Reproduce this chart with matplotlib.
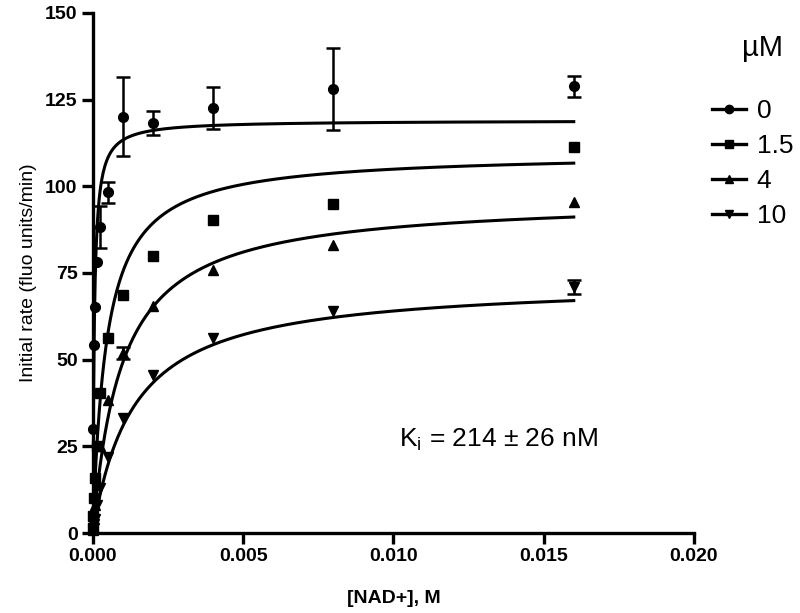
import numpy as np
import matplotlib.pyplot as plt

plt.rcParams['font.family'] = ['Liberation Sans', 'DejaVu Sans']

# [NAD+] in M (two-fold dilution series)
nad = [0.016, 0.008, 0.004, 0.002, 0.001, 0.0005, 0.00025,
       0.000125, 0.0000625, 0.00003125, 0.0000156, 0.0]

# initial rates (fluo units/min) for each inhibitor concentration
# (error 0 = bar hidden behind the marker)
rate_0 = [128.8, 128.0, 122.5, 118.2, 120.1, 98.3, 88.2, 78.2, 65.2, 54.2, 30.0, 2.0]
err_0 = [3.0, 11.8, 6.1, 3.4, 11.5, 3.0, 6.0, 0, 0, 0, 0, 0]
rate_1p5 = [111.2, 94.8, 90.2, 80.0, 68.6, 56.2, 40.3, 25.0, 16.0, 10.0, 5.0, 1.5]
err_1p5 = [0, 0, 0, 0, 0, 0, 0, 0, 0, 0, 0, 0]
rate_4 = [95.5, 83.2, 75.9, 65.5, 51.9, 38.4, 25.0, 14.0, 8.0, 4.0, 2.0, 1.0]
err_4 = [0, 0, 0, 0, 1.8, 0, 0, 0, 0, 0, 0, 0]
rate_10 = [71.0, 64.0, 56.2, 45.6, 33.2, 21.9, 13.0, 8.0, 4.0, 2.5, 1.5, 0.5]
err_10 = [2.0, 0, 0, 0, 0, 0, 0, 0, 0, 0, 0, 0]

# fitted curve parameters (apparent Vmax, apparent Km in M)
vmax_fit = [119.0, 109.7, 96.6, 72.7]
km_fit = [0.00005, 0.000455, 0.000962, 0.001356]

labels = ['0', '1.5', '4', '10']
markers = ['o', 's', '^', 'v']

fig = plt.figure(figsize=(8, 6.13), dpi=100)
ax = fig.add_axes([0.116, 0.1305, 0.7515, 0.8485])

series = [(rate_0, err_0), (rate_1p5, err_1p5), (rate_4, err_4), (rate_10, err_10)]
s = np.linspace(0, 0.016, 600)
handles = []
for i, (r, e) in enumerate(series):
    ax.plot(nad, r, linestyle='none', marker=markers[i], color='black',
            markersize=7, clip_on=False, zorder=3)
    xs = [x for x, v in zip(nad, e) if v > 0]
    ys = [y for y, v in zip(r, e) if v > 0]
    es = [v for v in e if v > 0]
    if xs:
        ax.errorbar(xs, ys, yerr=es, fmt='none', ecolor='black', capsize=5,
                    elinewidth=1.8, capthick=1.8, zorder=3)
    ax.plot(s, vmax_fit[i] * s / (km_fit[i] + s), color='black', lw=2.2, zorder=2)
    h, = ax.plot([], [], color='black', lw=2.4, marker=markers[i], markersize=6)
    handles.append(h)

ax.set_xlim(0, 0.020)
ax.set_ylim(0, 150)
ax.set_xticks([0.000, 0.005, 0.010, 0.015, 0.020])
ax.set_xticklabels(['0.000', '0.005', '0.010', '0.015', '0.020'])
ax.set_yticks([0, 25, 50, 75, 100, 125, 150])
for sp in ['top', 'right']:
    ax.spines[sp].set_visible(False)
for sp in ['left', 'bottom']:
    ax.spines[sp].set_linewidth(2.4)
ax.tick_params(width=2.4, length=8, labelsize=14, pad=3)
for t in ax.get_xticklabels() + ax.get_yticklabels():
    t.set_fontweight('bold')

ax.set_xlabel('[NAD+], M', fontsize=14, fontweight='bold', labelpad=18)
ax.set_ylabel('Initial rate (fluo units/min)', fontsize=14, labelpad=6)

ax.text(0.0102, 25, r'K$_\mathregular{i}$ = 214 ± 26 nM', fontsize=19)

# legend title drawn separately, entries below it
fig.text(0.953, 1 - 48 / 613, 'µM', fontsize=21, ha='center', va='center')
leg = fig.legend(handles, labels, loc='upper left',
                 bbox_to_anchor=(0.86, 0.877), frameon=False, fontsize=19,
                 handlelength=1.3, handletextpad=0.4, labelspacing=0.42)

fig.savefig('out.png', dpi=100)
